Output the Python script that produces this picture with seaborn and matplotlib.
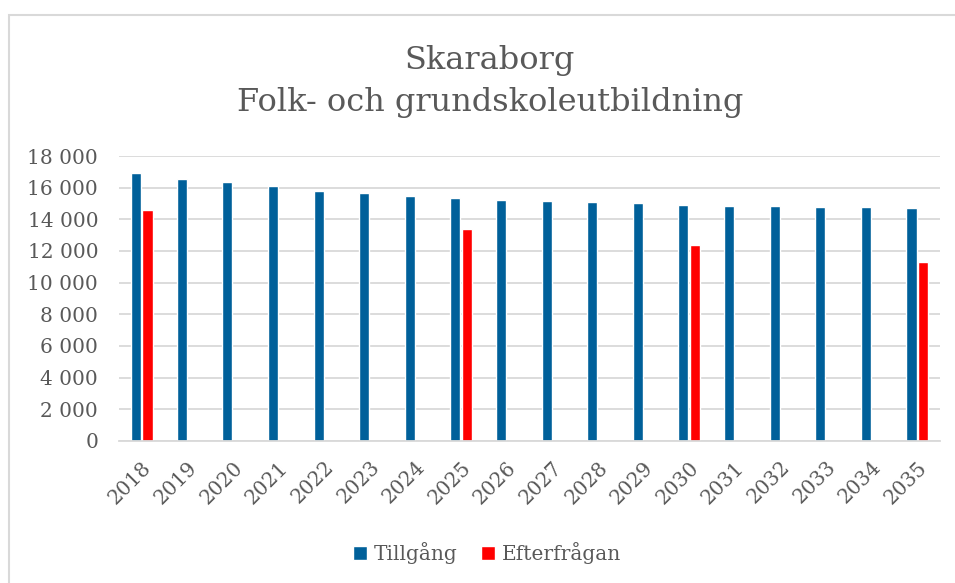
import matplotlib
matplotlib.use("Agg")
import matplotlib.pyplot as plt
import matplotlib.ticker as mticker
from matplotlib.patches import Rectangle
import seaborn as sns
import pandas as pd
import numpy as np

years = [str(y) for y in range(2018, 2036)]
tillgang = [16900, 16550, 16350, 16100, 15800, 15650, 15450, 15330, 15250,
            15160, 15100, 15000, 14930, 14870, 14830, 14780, 14780, 14720]
efterfragan = [14600, None, None, None, None, None, None, 13370, None,
               None, None, None, 12390, None, None, None, None, 11330]
series_names = ["Tillgång", "Efterfrågan"]
colors = ["#00609A", "#FF0000"]

df = pd.DataFrame({
    "År": years * 2,
    "Värde": [np.nan if v is None else v for v in tillgang + efterfragan],
    "Serie": [series_names[0]] * len(years) + [series_names[1]] * len(years),
})

sns.set_theme(style="white")
plt.rcParams["font.family"] = ["DejaVu Serif", "Liberation Serif"]
text_color = "#595959"

fig = plt.figure(figsize=(9.55, 5.83), dpi=100)
ax = fig.add_axes([119 / 955, 1 - 441 / 583, (940 - 119) / 955, (441 - 156) / 583])

sns.barplot(data=df, x="År", y="Värde", hue="Serie", palette=colors,
            width=0.5, gap=0.12, ax=ax, legend=True, saturation=1)

ax.set_ylim(0, 18000)
ax.set_xlim(-0.5, len(years) - 0.5)
ax.yaxis.set_major_locator(mticker.MultipleLocator(2000))
ax.yaxis.set_major_formatter(mticker.FuncFormatter(lambda v, p: f"{int(v):,}".replace(",", " ")))
ax.grid(axis="y", color="#D9D9D9", linewidth=1.3)
ax.set_axisbelow(True)
for s in ["top", "right", "left"]:
    ax.spines[s].set_visible(False)
ax.spines["bottom"].set_color("#D9D9D9")
ax.spines["bottom"].set_linewidth(1.3)
ax.set_xlabel("")
ax.set_ylabel("")
ax.tick_params(axis="y", labelsize=14.5, colors=text_color, length=0, pad=15)
ax.tick_params(axis="x", labelsize=14.5, colors=text_color, length=0, pad=12)
plt.setp(ax.get_xticklabels(), rotation=45, ha="right", rotation_mode="anchor")

fig.text(0.513, 1 - 60 / 583, "Skaraborg", ha="center", va="center",
         fontsize=23, color=text_color)
fig.text(0.513, 1 - 103 / 583, "Folk- och grundskoleutbildning", ha="center",
         va="center", fontsize=23, color=text_color)

handles, labels = ax.get_legend_handles_labels()
ax.legend(handles, labels, loc="center", bbox_to_anchor=(0.51, 1 - 553 / 583),
          bbox_transform=fig.transFigure, ncol=2, frameon=False, fontsize=14.5,
          handlelength=0.7, handleheight=0.7, handletextpad=0.3, columnspacing=1.2,
          labelcolor=text_color)

fig.patches.append(Rectangle((8.5 / 955, -0.1), 1.2, 1 - 15 / 583 + 0.1,
                             transform=fig.transFigure, fill=False,
                             edgecolor="#D9D9D9", linewidth=1.5, zorder=0))

fig.savefig("out.png", dpi=100)
